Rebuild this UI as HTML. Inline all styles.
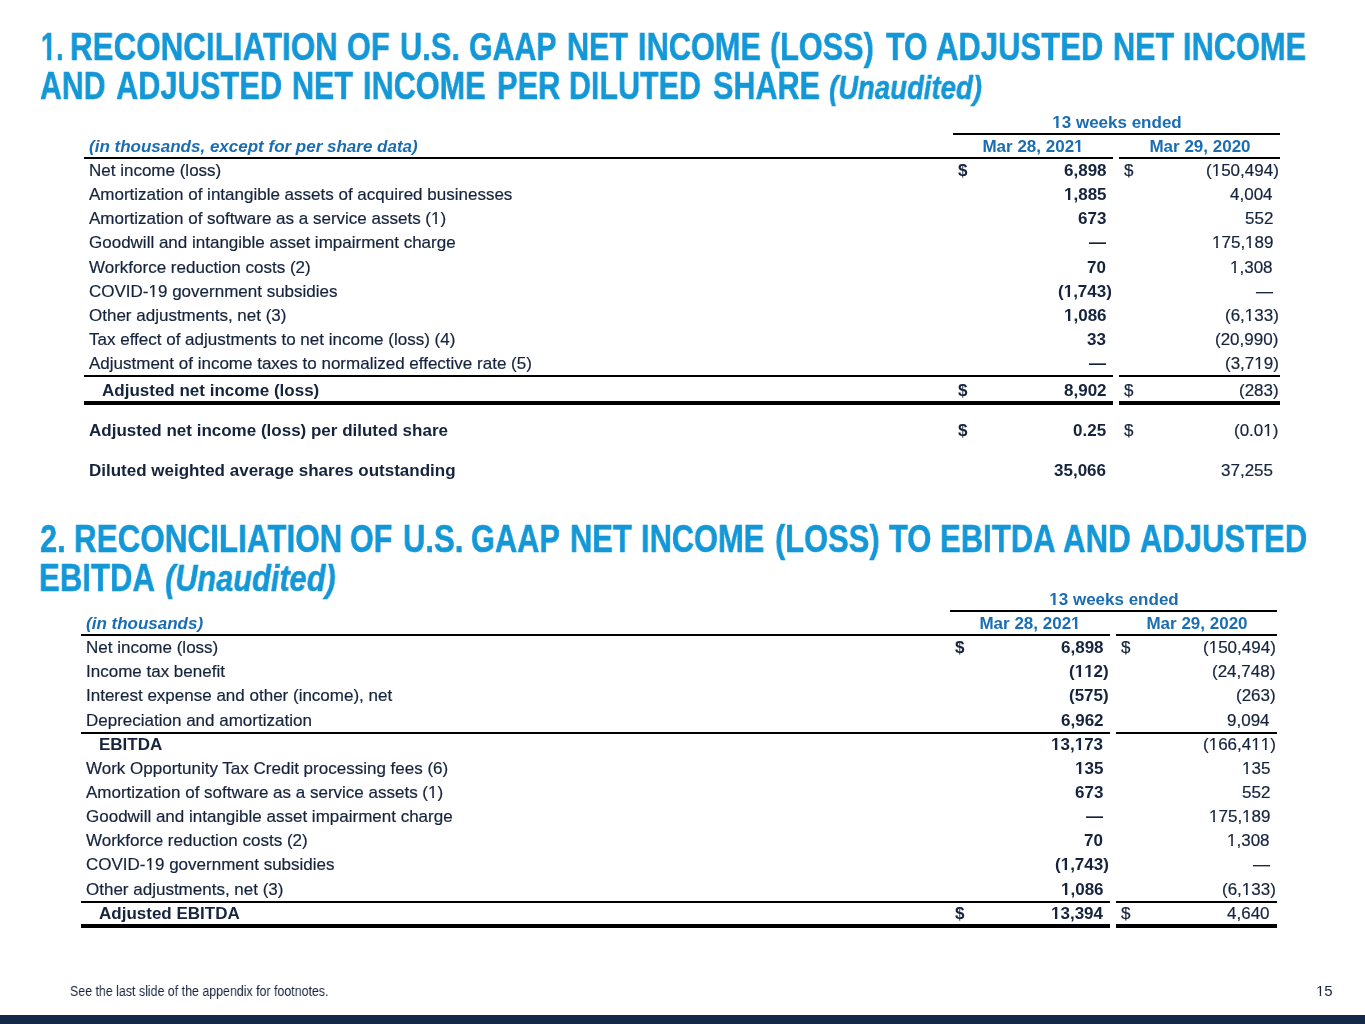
<!DOCTYPE html>
<html><head><meta charset="utf-8"><style>
html,body{margin:0;padding:0;background:#fff;}
body{width:1365px;height:1024px;position:relative;overflow:hidden;font-family:"Liberation Sans",sans-serif;}
.t{position:absolute;white-space:nowrap;line-height:24px;will-change:transform;}
.t i{font-style:italic;}
.r{position:absolute;}
.hp{margin-right:-0.333em;}
.ob,.or,.obt{display:inline-block;line-height:0;}
.ob{clip-path:polygon(-10% -1em,110% -1em,110% 0.18em,66.9% 0.18em,66.9% 1em,41.8% 1em,41.8% 0.18em,-10% 0.18em);}
.obt{clip-path:polygon(-10% -1em,110% -1em,110% 0.19em,68% 0.19em,68% 1em,40.5% 1em,40.5% 0.19em,-10% 0.19em);}
.or{clip-path:polygon(-10% -1em,110% -1em,110% 0.18em,62.3% 0.18em,62.3% 1em,44% 1em,44% 0.18em,-10% 0.18em);}
</style></head><body>
<div class="t" style="left:40.50px;top:34.66px;font-size:38.5px;font-weight:bold;font-style:normal;color:#1497d6;transform:scaleX(0.7);transform-origin:0 0;-webkit-text-stroke:0.5px #1497d6;"><span class="obt">1</span>.</div>
<div class="t" style="left:70.05px;top:34.66px;font-size:38.5px;font-weight:bold;font-style:normal;color:#1497d6;transform:scaleX(0.815015479876161);transform-origin:0 0;-webkit-text-stroke:0.5px #1497d6;">RECONCILIATION</div>
<div class="t" style="left:347.30px;top:34.66px;font-size:38.5px;font-weight:bold;font-style:normal;color:#1497d6;transform:scaleX(0.8);transform-origin:0 0;-webkit-text-stroke:0.5px #1497d6;">OF</div>
<div class="t" style="left:399.70px;top:34.66px;font-size:38.5px;font-weight:bold;font-style:normal;color:#1497d6;transform:scaleX(0.8);transform-origin:0 0;-webkit-text-stroke:0.5px #1497d6;">U.S.</div>
<div class="t" style="left:468.93px;top:34.66px;font-size:38.5px;font-weight:bold;font-style:normal;color:#1497d6;transform:scaleX(0.7870370370370371);transform-origin:0 0;-webkit-text-stroke:0.5px #1497d6;">GAAP</div>
<div class="t" style="left:567.02px;top:34.66px;font-size:38.5px;font-weight:bold;font-style:normal;color:#1497d6;transform:scaleX(0.7918918918918922);transform-origin:0 0;-webkit-text-stroke:0.5px #1497d6;">NET</div>
<div class="t" style="left:638.10px;top:34.66px;font-size:38.5px;font-weight:bold;font-style:normal;color:#1497d6;transform:scaleX(0.7986666666666664);transform-origin:0 0;-webkit-text-stroke:0.5px #1497d6;">INCOME</div>
<div class="t" style="left:770.41px;top:34.66px;font-size:38.5px;font-weight:bold;font-style:normal;color:#1497d6;transform:scaleX(0.7952755905511811);transform-origin:0 0;-webkit-text-stroke:0.5px #1497d6;">(LOSS)</div>
<div class="t" style="left:885.50px;top:34.66px;font-size:38.5px;font-weight:bold;font-style:normal;color:#1497d6;transform:scaleX(0.7901960784313716);transform-origin:0 0;-webkit-text-stroke:0.5px #1497d6;">TO</div>
<div class="t" style="left:935.99px;top:34.66px;font-size:38.5px;font-weight:bold;font-style:normal;color:#1497d6;transform:scaleX(0.806341463414634);transform-origin:0 0;-webkit-text-stroke:0.5px #1497d6;">ADJUSTED</div>
<div class="t" style="left:1112.62px;top:34.66px;font-size:38.5px;font-weight:bold;font-style:normal;color:#1497d6;transform:scaleX(0.794594594594594);transform-origin:0 0;-webkit-text-stroke:0.5px #1497d6;">NET</div>
<div class="t" style="left:1183.10px;top:34.66px;font-size:38.5px;font-weight:bold;font-style:normal;color:#1497d6;transform:scaleX(0.8);transform-origin:0 0;-webkit-text-stroke:0.5px #1497d6;">INCOME</div>
<div class="t" style="left:39.51px;top:73.96px;font-size:38.5px;font-weight:bold;font-style:normal;color:#1497d6;transform:scaleX(0.7864197530864198);transform-origin:0 0;-webkit-text-stroke:0.5px #1497d6;">AND</div>
<div class="t" style="left:115.60px;top:73.96px;font-size:38.5px;font-weight:bold;font-style:normal;color:#1497d6;transform:scaleX(0.8004878048780487);transform-origin:0 0;-webkit-text-stroke:0.5px #1497d6;">ADJUSTED</div>
<div class="t" style="left:292.13px;top:73.96px;font-size:38.5px;font-weight:bold;font-style:normal;color:#1497d6;transform:scaleX(0.7905405405405406);transform-origin:0 0;-webkit-text-stroke:0.5px #1497d6;">NET</div>
<div class="t" style="left:363.11px;top:73.96px;font-size:38.5px;font-weight:bold;font-style:normal;color:#1497d6;transform:scaleX(0.7966666666666666);transform-origin:0 0;-webkit-text-stroke:0.5px #1497d6;">INCOME</div>
<div class="t" style="left:496.50px;top:73.96px;font-size:38.5px;font-weight:bold;font-style:normal;color:#1497d6;transform:scaleX(0.8013333333333337);transform-origin:0 0;-webkit-text-stroke:0.5px #1497d6;">PER</div>
<div class="t" style="left:569.03px;top:73.96px;font-size:38.5px;font-weight:bold;font-style:normal;color:#1497d6;transform:scaleX(0.7913580246913583);transform-origin:0 0;-webkit-text-stroke:0.5px #1497d6;">DILUTED</div>
<div class="t" style="left:712.71px;top:73.96px;font-size:38.5px;font-weight:bold;font-style:normal;color:#1497d6;transform:scaleX(0.7939393939393936);transform-origin:0 0;-webkit-text-stroke:0.5px #1497d6;">SHARE</div>
<div class="t" style="left:828.98px;top:75.69px;font-size:33.5px;font-weight:bold;font-style:italic;color:#1497d6;transform:scaleX(0.821824838073782);transform-origin:0 0;-webkit-text-stroke:0.5px #1497d6;">(Unaudited)</div>
<div class="t" style="left:40.00px;top:526.66px;font-size:38.5px;font-weight:bold;font-style:normal;color:#1497d6;transform:scaleX(0.7999999999999999);transform-origin:0 0;-webkit-text-stroke:0.5px #1497d6;">2.</div>
<div class="t" style="left:74.05px;top:526.66px;font-size:38.5px;font-weight:bold;font-style:normal;color:#1497d6;transform:scaleX(0.81671826625387);transform-origin:0 0;-webkit-text-stroke:0.5px #1497d6;">RECONCILIATION</div>
<div class="t" style="left:350.42px;top:526.66px;font-size:38.5px;font-weight:bold;font-style:normal;color:#1497d6;transform:scaleX(0.7920000000000005);transform-origin:0 0;-webkit-text-stroke:0.5px #1497d6;">OF</div>
<div class="t" style="left:403.19px;top:526.66px;font-size:38.5px;font-weight:bold;font-style:normal;color:#1497d6;transform:scaleX(0.8057142857142854);transform-origin:0 0;-webkit-text-stroke:0.5px #1497d6;">U.S.</div>
<div class="t" style="left:471.30px;top:526.66px;font-size:38.5px;font-weight:bold;font-style:normal;color:#1497d6;transform:scaleX(0.7999999999999998);transform-origin:0 0;-webkit-text-stroke:0.5px #1497d6;">GAAP</div>
<div class="t" style="left:570.09px;top:526.66px;font-size:38.5px;font-weight:bold;font-style:normal;color:#1497d6;transform:scaleX(0.8027027027027024);transform-origin:0 0;-webkit-text-stroke:0.5px #1497d6;">NET</div>
<div class="t" style="left:641.20px;top:526.66px;font-size:38.5px;font-weight:bold;font-style:normal;color:#1497d6;transform:scaleX(0.8006666666666669);transform-origin:0 0;-webkit-text-stroke:0.5px #1497d6;">INCOME</div>
<div class="t" style="left:774.60px;top:526.66px;font-size:38.5px;font-weight:bold;font-style:normal;color:#1497d6;transform:scaleX(0.8015748031496059);transform-origin:0 0;-webkit-text-stroke:0.5px #1497d6;">(LOSS)</div>
<div class="t" style="left:889.00px;top:526.66px;font-size:38.5px;font-weight:bold;font-style:normal;color:#1497d6;transform:scaleX(0.803921568627451);transform-origin:0 0;-webkit-text-stroke:0.5px #1497d6;">TO</div>
<div class="t" style="left:940.08px;top:526.66px;font-size:38.5px;font-weight:bold;font-style:normal;color:#1497d6;transform:scaleX(0.8064748201438843);transform-origin:0 0;-webkit-text-stroke:0.5px #1497d6;">EBITDA</div>
<div class="t" style="left:1063.29px;top:526.66px;font-size:38.5px;font-weight:bold;font-style:normal;color:#1497d6;transform:scaleX(0.8135802469135813);transform-origin:0 0;-webkit-text-stroke:0.5px #1497d6;">AND</div>
<div class="t" style="left:1139.99px;top:526.66px;font-size:38.5px;font-weight:bold;font-style:normal;color:#1497d6;transform:scaleX(0.8058536585365856);transform-origin:0 0;-webkit-text-stroke:0.5px #1497d6;">ADJUSTED</div>
<div class="t" style="left:39.27px;top:566.16px;font-size:38.5px;font-weight:bold;font-style:normal;color:#1497d6;transform:scaleX(0.8093525179856114);transform-origin:0 0;-webkit-text-stroke:0.5px #1497d6;">EBITDA</div>
<div class="t" style="left:165.16px;top:566.82px;font-size:36.6px;font-weight:bold;font-style:italic;color:#1497d6;transform:scaleX(0.8400414991236209);transform-origin:0 0;-webkit-text-stroke:0.5px #1497d6;">(Unaudited)</div>
<div class="t" style="left:1116.50px;top:110.61px;font-size:17px;font-weight:bold;font-style:normal;color:#1a6db3;transform:translateX(-50%);"><span class="ob">1</span>3 weeks ended</div>
<div class="r" style="left:953.00px;top:133.00px;width:327.00px;height:2.00px;background:#000"></div>
<div class="t" style="left:88.80px;top:134.81px;font-size:17px;font-weight:bold;font-style:italic;color:#1a6db3;">(in thousands, except for per share data)</div>
<div class="t" style="left:1033.00px;top:134.81px;font-size:17px;font-weight:bold;font-style:normal;color:#1a6db3;transform:translateX(-50%);">Mar 28, 202<span class="ob">1</span></div>
<div class="t" style="left:1199.50px;top:134.81px;font-size:17px;font-weight:bold;font-style:normal;color:#1a6db3;transform:translateX(-50%);">Mar 29, 2020</div>
<div class="r" style="left:84.00px;top:157.00px;width:1029.00px;height:2.00px;background:#000"></div>
<div class="r" style="left:1119.00px;top:157.00px;width:161.00px;height:2.00px;background:#000"></div>
<div class="t" style="left:88.80px;top:158.91px;font-size:17px;font-weight:normal;font-style:normal;color:#15233d;-webkit-text-stroke:0.2px #15233d;">Net income (loss)</div>
<div class="t" style="left:957.50px;top:158.91px;font-size:17px;font-weight:bold;font-style:normal;color:#15233d;">$</div>
<div class="t" style="right:258.70px;top:158.91px;font-size:17px;font-weight:bold;font-style:normal;color:#15233d;">6,898</div>
<div class="t" style="left:1124.00px;top:158.91px;font-size:17px;font-weight:normal;font-style:normal;color:#15233d;-webkit-text-stroke:0.2px #15233d;">$</div>
<div class="t" style="right:92.00px;top:158.91px;font-size:17px;font-weight:normal;font-style:normal;color:#15233d;-webkit-text-stroke:0.2px #15233d;">(<span class="or">1</span>50,494<span class="hp">)</span></div>
<div class="t" style="left:88.80px;top:183.09px;font-size:17px;font-weight:normal;font-style:normal;color:#15233d;-webkit-text-stroke:0.2px #15233d;">Amortization of intangible assets of acquired businesses</div>
<div class="t" style="right:258.70px;top:183.09px;font-size:17px;font-weight:bold;font-style:normal;color:#15233d;"><span class="ob">1</span>,885</div>
<div class="t" style="right:92.00px;top:183.09px;font-size:17px;font-weight:normal;font-style:normal;color:#15233d;-webkit-text-stroke:0.2px #15233d;">4,004</div>
<div class="t" style="left:88.80px;top:207.27px;font-size:17px;font-weight:normal;font-style:normal;color:#15233d;-webkit-text-stroke:0.2px #15233d;">Amortization of software as a service assets (<span class="or">1</span>)</div>
<div class="t" style="right:258.70px;top:207.27px;font-size:17px;font-weight:bold;font-style:normal;color:#15233d;">673</div>
<div class="t" style="right:92.00px;top:207.27px;font-size:17px;font-weight:normal;font-style:normal;color:#15233d;-webkit-text-stroke:0.2px #15233d;">552</div>
<div class="t" style="left:88.80px;top:231.45px;font-size:17px;font-weight:normal;font-style:normal;color:#15233d;-webkit-text-stroke:0.2px #15233d;">Goodwill and intangible asset impairment charge</div>
<div class="t" style="right:258.70px;top:231.45px;font-size:17px;font-weight:bold;font-style:normal;color:#15233d;">&mdash;</div>
<div class="t" style="right:92.00px;top:231.45px;font-size:17px;font-weight:normal;font-style:normal;color:#15233d;-webkit-text-stroke:0.2px #15233d;"><span class="or">1</span>75,<span class="or">1</span>89</div>
<div class="t" style="left:88.80px;top:255.63px;font-size:17px;font-weight:normal;font-style:normal;color:#15233d;-webkit-text-stroke:0.2px #15233d;">Workforce reduction costs (2)</div>
<div class="t" style="right:258.70px;top:255.63px;font-size:17px;font-weight:bold;font-style:normal;color:#15233d;">70</div>
<div class="t" style="right:92.00px;top:255.63px;font-size:17px;font-weight:normal;font-style:normal;color:#15233d;-webkit-text-stroke:0.2px #15233d;"><span class="or">1</span>,308</div>
<div class="t" style="left:88.80px;top:279.81px;font-size:17px;font-weight:normal;font-style:normal;color:#15233d;-webkit-text-stroke:0.2px #15233d;">COVID-<span class="or">1</span>9 government subsidies</div>
<div class="t" style="right:258.70px;top:279.81px;font-size:17px;font-weight:bold;font-style:normal;color:#15233d;">(<span class="ob">1</span>,743<span class="hp">)</span></div>
<div class="t" style="right:92.00px;top:279.81px;font-size:17px;font-weight:normal;font-style:normal;color:#15233d;-webkit-text-stroke:0.2px #15233d;">&mdash;</div>
<div class="t" style="left:88.80px;top:303.99px;font-size:17px;font-weight:normal;font-style:normal;color:#15233d;-webkit-text-stroke:0.2px #15233d;">Other adjustments, net (3)</div>
<div class="t" style="right:258.70px;top:303.99px;font-size:17px;font-weight:bold;font-style:normal;color:#15233d;"><span class="ob">1</span>,086</div>
<div class="t" style="right:92.00px;top:303.99px;font-size:17px;font-weight:normal;font-style:normal;color:#15233d;-webkit-text-stroke:0.2px #15233d;">(6,<span class="or">1</span>33<span class="hp">)</span></div>
<div class="t" style="left:88.80px;top:328.17px;font-size:17px;font-weight:normal;font-style:normal;color:#15233d;-webkit-text-stroke:0.2px #15233d;">Tax effect of adjustments to net income (loss) (4)</div>
<div class="t" style="right:258.70px;top:328.17px;font-size:17px;font-weight:bold;font-style:normal;color:#15233d;">33</div>
<div class="t" style="right:92.00px;top:328.17px;font-size:17px;font-weight:normal;font-style:normal;color:#15233d;-webkit-text-stroke:0.2px #15233d;">(20,990<span class="hp">)</span></div>
<div class="t" style="left:88.80px;top:352.35px;font-size:17px;font-weight:normal;font-style:normal;color:#15233d;-webkit-text-stroke:0.2px #15233d;">Adjustment of income taxes to normalized effective rate (5)</div>
<div class="t" style="right:258.70px;top:352.35px;font-size:17px;font-weight:bold;font-style:normal;color:#15233d;">&mdash;</div>
<div class="t" style="right:92.00px;top:352.35px;font-size:17px;font-weight:normal;font-style:normal;color:#15233d;-webkit-text-stroke:0.2px #15233d;">(3,7<span class="or">1</span>9<span class="hp">)</span></div>
<div class="r" style="left:84.00px;top:375.00px;width:1029.00px;height:2.00px;background:#000"></div>
<div class="r" style="left:1119.00px;top:375.00px;width:161.00px;height:2.00px;background:#000"></div>
<div class="t" style="left:101.50px;top:379.41px;font-size:17px;font-weight:bold;font-style:normal;color:#15233d;">Adjusted net income (loss)</div>
<div class="t" style="left:957.50px;top:379.41px;font-size:17px;font-weight:bold;font-style:normal;color:#15233d;">$</div>
<div class="t" style="right:258.70px;top:379.41px;font-size:17px;font-weight:bold;font-style:normal;color:#15233d;">8,902</div>
<div class="t" style="left:1124.00px;top:379.41px;font-size:17px;font-weight:normal;font-style:normal;color:#15233d;-webkit-text-stroke:0.2px #15233d;">$</div>
<div class="t" style="right:92.00px;top:379.41px;font-size:17px;font-weight:normal;font-style:normal;color:#15233d;-webkit-text-stroke:0.2px #15233d;">(283<span class="hp">)</span></div>
<div class="r" style="left:84.00px;top:401.30px;width:1029.00px;height:3.50px;background:#000"></div>
<div class="r" style="left:1119.00px;top:401.30px;width:161.00px;height:3.50px;background:#000"></div>
<div class="t" style="left:88.80px;top:419.31px;font-size:17px;font-weight:bold;font-style:normal;color:#15233d;">Adjusted net income (loss) per diluted share</div>
<div class="t" style="left:957.50px;top:419.31px;font-size:17px;font-weight:bold;font-style:normal;color:#15233d;">$</div>
<div class="t" style="right:258.70px;top:419.31px;font-size:17px;font-weight:bold;font-style:normal;color:#15233d;">0.25</div>
<div class="t" style="left:1124.00px;top:419.31px;font-size:17px;font-weight:normal;font-style:normal;color:#15233d;-webkit-text-stroke:0.2px #15233d;">$</div>
<div class="t" style="right:92.00px;top:419.31px;font-size:17px;font-weight:normal;font-style:normal;color:#15233d;-webkit-text-stroke:0.2px #15233d;">(0.0<span class="or">1</span><span class="hp">)</span></div>
<div class="t" style="left:88.80px;top:458.71px;font-size:17px;font-weight:bold;font-style:normal;color:#15233d;">Diluted weighted average shares outstanding</div>
<div class="t" style="right:258.70px;top:458.71px;font-size:17px;font-weight:bold;font-style:normal;color:#15233d;">35,066</div>
<div class="t" style="right:92.00px;top:458.71px;font-size:17px;font-weight:normal;font-style:normal;color:#15233d;-webkit-text-stroke:0.2px #15233d;">37,255</div>
<div class="t" style="left:1113.50px;top:587.61px;font-size:17px;font-weight:bold;font-style:normal;color:#1a6db3;transform:translateX(-50%);"><span class="ob">1</span>3 weeks ended</div>
<div class="r" style="left:950.00px;top:610.00px;width:327.00px;height:2.00px;background:#000"></div>
<div class="t" style="left:86.30px;top:612.11px;font-size:17px;font-weight:bold;font-style:italic;color:#1a6db3;">(in thousands)</div>
<div class="t" style="left:1030.00px;top:612.11px;font-size:17px;font-weight:bold;font-style:normal;color:#1a6db3;transform:translateX(-50%);">Mar 28, 202<span class="ob">1</span></div>
<div class="t" style="left:1196.50px;top:612.11px;font-size:17px;font-weight:bold;font-style:normal;color:#1a6db3;transform:translateX(-50%);">Mar 29, 2020</div>
<div class="r" style="left:81.00px;top:634.30px;width:1029.00px;height:2.00px;background:#000"></div>
<div class="r" style="left:1116.00px;top:634.30px;width:161.00px;height:2.00px;background:#000"></div>
<div class="t" style="left:86.30px;top:636.11px;font-size:17px;font-weight:normal;font-style:normal;color:#15233d;-webkit-text-stroke:0.2px #15233d;">Net income (loss)</div>
<div class="t" style="left:954.50px;top:636.11px;font-size:17px;font-weight:bold;font-style:normal;color:#15233d;">$</div>
<div class="t" style="right:261.70px;top:636.11px;font-size:17px;font-weight:bold;font-style:normal;color:#15233d;">6,898</div>
<div class="t" style="left:1121.00px;top:636.11px;font-size:17px;font-weight:normal;font-style:normal;color:#15233d;-webkit-text-stroke:0.2px #15233d;">$</div>
<div class="t" style="right:95.00px;top:636.11px;font-size:17px;font-weight:normal;font-style:normal;color:#15233d;-webkit-text-stroke:0.2px #15233d;">(<span class="or">1</span>50,494<span class="hp">)</span></div>
<div class="t" style="left:86.30px;top:660.26px;font-size:17px;font-weight:normal;font-style:normal;color:#15233d;-webkit-text-stroke:0.2px #15233d;">Income tax benefit</div>
<div class="t" style="right:261.70px;top:660.26px;font-size:17px;font-weight:bold;font-style:normal;color:#15233d;">(<span class="ob">1</span><span class="ob">1</span>2<span class="hp">)</span></div>
<div class="t" style="right:95.00px;top:660.26px;font-size:17px;font-weight:normal;font-style:normal;color:#15233d;-webkit-text-stroke:0.2px #15233d;">(24,748<span class="hp">)</span></div>
<div class="t" style="left:86.30px;top:684.41px;font-size:17px;font-weight:normal;font-style:normal;color:#15233d;-webkit-text-stroke:0.2px #15233d;">Interest expense and other (income), net</div>
<div class="t" style="right:261.70px;top:684.41px;font-size:17px;font-weight:bold;font-style:normal;color:#15233d;">(575<span class="hp">)</span></div>
<div class="t" style="right:95.00px;top:684.41px;font-size:17px;font-weight:normal;font-style:normal;color:#15233d;-webkit-text-stroke:0.2px #15233d;">(263<span class="hp">)</span></div>
<div class="t" style="left:86.30px;top:708.56px;font-size:17px;font-weight:normal;font-style:normal;color:#15233d;-webkit-text-stroke:0.2px #15233d;">Depreciation and amortization</div>
<div class="t" style="right:261.70px;top:708.56px;font-size:17px;font-weight:bold;font-style:normal;color:#15233d;">6,962</div>
<div class="t" style="right:95.00px;top:708.56px;font-size:17px;font-weight:normal;font-style:normal;color:#15233d;-webkit-text-stroke:0.2px #15233d;">9,094</div>
<div class="r" style="left:81.00px;top:731.50px;width:1029.00px;height:2.00px;background:#000"></div>
<div class="r" style="left:1116.00px;top:731.50px;width:161.00px;height:2.00px;background:#000"></div>
<div class="t" style="left:99.20px;top:732.71px;font-size:17px;font-weight:bold;font-style:normal;color:#15233d;">EBITDA</div>
<div class="t" style="right:261.70px;top:732.71px;font-size:17px;font-weight:bold;font-style:normal;color:#15233d;"><span class="ob">1</span>3,<span class="ob">1</span>73</div>
<div class="t" style="right:95.00px;top:732.71px;font-size:17px;font-weight:normal;font-style:normal;color:#15233d;-webkit-text-stroke:0.2px #15233d;">(<span class="or">1</span>66,4<span class="or">1</span><span class="or">1</span><span class="hp">)</span></div>
<div class="t" style="left:86.30px;top:756.86px;font-size:17px;font-weight:normal;font-style:normal;color:#15233d;-webkit-text-stroke:0.2px #15233d;">Work Opportunity Tax Credit processing fees (6)</div>
<div class="t" style="right:261.70px;top:756.86px;font-size:17px;font-weight:bold;font-style:normal;color:#15233d;"><span class="ob">1</span>35</div>
<div class="t" style="right:95.00px;top:756.86px;font-size:17px;font-weight:normal;font-style:normal;color:#15233d;-webkit-text-stroke:0.2px #15233d;"><span class="or">1</span>35</div>
<div class="t" style="left:86.30px;top:781.01px;font-size:17px;font-weight:normal;font-style:normal;color:#15233d;-webkit-text-stroke:0.2px #15233d;">Amortization of software as a service assets (<span class="or">1</span>)</div>
<div class="t" style="right:261.70px;top:781.01px;font-size:17px;font-weight:bold;font-style:normal;color:#15233d;">673</div>
<div class="t" style="right:95.00px;top:781.01px;font-size:17px;font-weight:normal;font-style:normal;color:#15233d;-webkit-text-stroke:0.2px #15233d;">552</div>
<div class="t" style="left:86.30px;top:805.16px;font-size:17px;font-weight:normal;font-style:normal;color:#15233d;-webkit-text-stroke:0.2px #15233d;">Goodwill and intangible asset impairment charge</div>
<div class="t" style="right:261.70px;top:805.16px;font-size:17px;font-weight:bold;font-style:normal;color:#15233d;">&mdash;</div>
<div class="t" style="right:95.00px;top:805.16px;font-size:17px;font-weight:normal;font-style:normal;color:#15233d;-webkit-text-stroke:0.2px #15233d;"><span class="or">1</span>75,<span class="or">1</span>89</div>
<div class="t" style="left:86.30px;top:829.31px;font-size:17px;font-weight:normal;font-style:normal;color:#15233d;-webkit-text-stroke:0.2px #15233d;">Workforce reduction costs (2)</div>
<div class="t" style="right:261.70px;top:829.31px;font-size:17px;font-weight:bold;font-style:normal;color:#15233d;">70</div>
<div class="t" style="right:95.00px;top:829.31px;font-size:17px;font-weight:normal;font-style:normal;color:#15233d;-webkit-text-stroke:0.2px #15233d;"><span class="or">1</span>,308</div>
<div class="t" style="left:86.30px;top:853.46px;font-size:17px;font-weight:normal;font-style:normal;color:#15233d;-webkit-text-stroke:0.2px #15233d;">COVID-<span class="or">1</span>9 government subsidies</div>
<div class="t" style="right:261.70px;top:853.46px;font-size:17px;font-weight:bold;font-style:normal;color:#15233d;">(<span class="ob">1</span>,743<span class="hp">)</span></div>
<div class="t" style="right:95.00px;top:853.46px;font-size:17px;font-weight:normal;font-style:normal;color:#15233d;-webkit-text-stroke:0.2px #15233d;">&mdash;</div>
<div class="t" style="left:86.30px;top:877.61px;font-size:17px;font-weight:normal;font-style:normal;color:#15233d;-webkit-text-stroke:0.2px #15233d;">Other adjustments, net (3)</div>
<div class="t" style="right:261.70px;top:877.61px;font-size:17px;font-weight:bold;font-style:normal;color:#15233d;"><span class="ob">1</span>,086</div>
<div class="t" style="right:95.00px;top:877.61px;font-size:17px;font-weight:normal;font-style:normal;color:#15233d;-webkit-text-stroke:0.2px #15233d;">(6,<span class="or">1</span>33<span class="hp">)</span></div>
<div class="r" style="left:81.00px;top:900.50px;width:1029.00px;height:2.00px;background:#000"></div>
<div class="r" style="left:1116.00px;top:900.50px;width:161.00px;height:2.00px;background:#000"></div>
<div class="t" style="left:99.20px;top:901.76px;font-size:17px;font-weight:bold;font-style:normal;color:#15233d;">Adjusted EBITDA</div>
<div class="t" style="left:954.50px;top:901.76px;font-size:17px;font-weight:bold;font-style:normal;color:#15233d;">$</div>
<div class="t" style="right:261.70px;top:901.76px;font-size:17px;font-weight:bold;font-style:normal;color:#15233d;"><span class="ob">1</span>3,394</div>
<div class="t" style="left:1121.00px;top:901.76px;font-size:17px;font-weight:normal;font-style:normal;color:#15233d;-webkit-text-stroke:0.2px #15233d;">$</div>
<div class="t" style="right:95.00px;top:901.76px;font-size:17px;font-weight:normal;font-style:normal;color:#15233d;-webkit-text-stroke:0.2px #15233d;">4,640</div>
<div class="r" style="left:81.00px;top:924.20px;width:1029.00px;height:3.50px;background:#000"></div>
<div class="r" style="left:1116.00px;top:924.20px;width:161.00px;height:3.50px;background:#000"></div>
<div class="t" style="left:70.00px;top:978.63px;font-size:15.5px;font-weight:normal;font-style:normal;color:#15233d;transform:scaleX(0.8);transform-origin:0 0;">See the last slide of the appendix for footnotes.</div>
<div class="t" style="left:1316.00px;top:978.60px;font-size:15px;font-weight:normal;font-style:normal;color:#15233d;"><span class="or">1</span>5</div>
<div class="r" style="left:0;top:1014.5px;width:1365px;height:10px;background:#14294a"></div>
</body></html>
